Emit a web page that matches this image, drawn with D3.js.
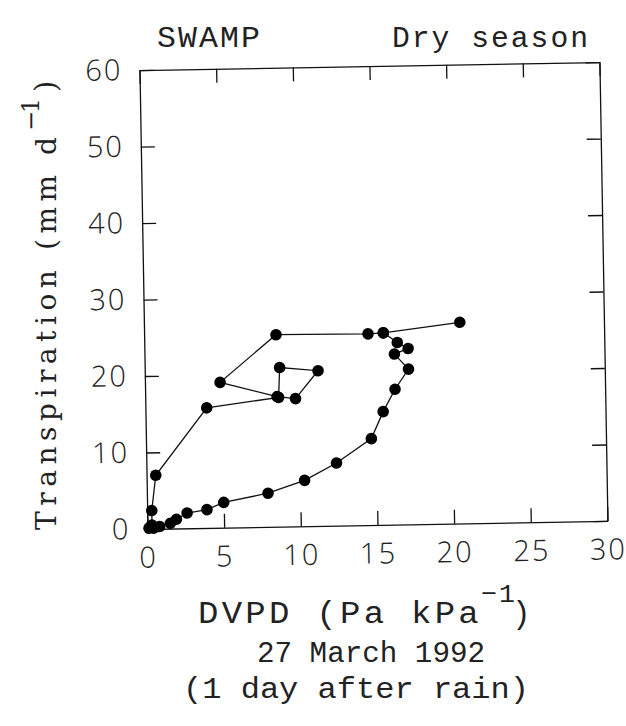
<!DOCTYPE html>
<html>
<head>
<meta charset="utf-8">
<style>
  body { margin: 0; background: #fff; }
  .mono { font-family: "Liberation Mono", "DejaVu Sans Mono", monospace; fill: #222; letter-spacing: 2px; }
  .serif { font-family: "DejaVu Serif", "Liberation Serif", serif; fill: #222; }
  .axis text { font-family: "Open Sans", "DejaVu Sans", sans-serif; font-weight: 300; font-size: 29px; letter-spacing: 2px; fill: #222; }
  .axis path, .axis line { stroke: #111; stroke-width: 1.3; }
</style>
</head>
<body>
<div id="chart"></div>

<script src="https://d3js.org/d3.v7.min.js"></script>
<script>

	var w = 626, h = 726;

	// ticks
	var xTicks = [0, 5, 10, 15, 20, 25, 30];
	var yTicks = [0, 10, 20, 30, 40, 50, 60];

	// morning branch (rising transpiration)
	var morningDvpd   = [0.1, 0.3, 0.3, 0.6, 4.0, 8.7, 8.8, 11.3, 9.8, 8.6, 4.9, 8.6, 14.6, 15.6, 20.6];
	var morningTransp = [0.1, 0.5, 2.4, 7.0, 15.7, 16.9, 20.8, 20.3, 16.7, 17.0, 19.0, 25.1, 25.0, 25.1, 26.3];

	// afternoon branch (falling back to the origin)
	var afternoonDvpd   = [15.6, 16.5, 17.2, 16.3, 17.2, 16.3, 15.5, 14.7, 12.4, 10.3, 7.9, 5.0, 3.9, 2.6, 1.9, 1.5, 0.8, 0.4, 0.2];
	var afternoonTransp = [25.1, 23.8, 23.0, 22.3, 20.3, 17.7, 14.8, 11.3, 8.2, 6.0, 4.4, 3.3, 2.4, 2.0, 1.2, 0.7, 0.3, 0.1, 0.3];

	var svg = d3.select("#chart")
				.append("svg")
				.attr("width", w)
				.attr("height", h);

	svg.append("rect").attr("width", w).attr("height", h).attr("fill", "#fff");

	// plot frame, slightly tilted like the scan
	var pw = 460, ph = 459;
	var plot = svg.append("g")
				  .attr("transform", "translate(147.5,529) rotate(-1.0)");

	var x = d3.scaleLinear().domain([0, 30]).range([0, pw]),
		y = d3.scaleLinear().domain([0, 60]).range([0, -ph]);

	// bottom axis with labels
	plot.append("g")
		.attr("class", "axis")
		.call(d3.axisBottom(x).tickValues(xTicks).tickSize(-14).tickSizeOuter(0).tickPadding(18));

	// left axis with labels
	plot.append("g")
		.attr("class", "axis")
		.call(d3.axisLeft(y).tickValues(yTicks).tickSize(-14).tickSizeOuter(0).tickPadding(17));

	// top and right, ticks only
	plot.append("g")
		.attr("class", "axis")
		.attr("transform", "translate(0," + (-ph) + ")")
		.call(d3.axisTop(x).tickValues(xTicks).tickSize(-14).tickSizeOuter(0).tickFormat(""));
	plot.append("g")
		.attr("class", "axis")
		.attr("transform", "translate(" + pw + ",0)")
		.call(d3.axisRight(y).tickValues(yTicks).tickSize(-14).tickSizeOuter(0).tickFormat(""));

	plot.selectAll(".axis").attr("font-family", null).attr("font-size", null);

	var line = d3.line()
				 .x(function(d) { return x(d[0]); })
				 .y(function(d) { return y(d[1]); });

	var morning = d3.zip(morningDvpd, morningTransp),
		afternoon = d3.zip(afternoonDvpd, afternoonTransp);

	[morning, afternoon].forEach(function(series) {
		plot.append("path")
			.datum(series)
			.attr("d", line)
			.attr("fill", "none")
			.attr("stroke", "#111")
			.attr("stroke-width", 1.3);

		plot.append("g")
			.selectAll("circle")
			.data(series)
			.enter()
			.append("circle")
			.attr("cx", function(d) { return x(d[0]); })
			.attr("cy", function(d) { return y(d[1]); })
			.attr("r", 5.8)
			.attr("fill", "#000");
	});

	// header
	svg.append("text").attr("class", "mono")
	   .attr("x", 157).attr("y", 47)
	   .attr("font-size", 30).attr("textLength", 105).attr("lengthAdjust", "spacingAndGlyphs")
	   .text("SWAMP");
	svg.append("text").attr("class", "mono")
	   .attr("x", 392).attr("y", 47)
	   .attr("font-size", 30).attr("textLength", 198).attr("lengthAdjust", "spacingAndGlyphs")
	   .text("Dry season");

	// x title
	svg.append("text").attr("class", "mono")
	   .attr("x", 198).attr("y", 623)
	   .attr("font-size", 31).attr("textLength", 284).attr("lengthAdjust", "spacingAndGlyphs")
	   .style("letter-spacing", "3px")
	   .text("DVPD (Pa kPa");
	svg.append("text").attr("class", "mono")
	   .attr("x", 481).attr("y", 602)
	   .attr("font-size", 26).attr("textLength", 36).attr("lengthAdjust", "spacingAndGlyphs")
	   .text("\u22121");
	svg.append("text").attr("class", "mono")
	   .attr("x", 512).attr("y", 623)
	   .attr("font-size", 31)
	   .text(")");

	svg.append("text").attr("class", "mono")
	   .attr("x", 257).attr("y", 662)
	   .attr("font-size", 30).attr("textLength", 228).attr("lengthAdjust", "spacingAndGlyphs")
	   .style("letter-spacing", "0px")
	   .text("27 March 1992");
	svg.append("text").attr("class", "mono")
	   .attr("x", 183).attr("y", 698)
	   .attr("font-size", 30).attr("textLength", 346).attr("lengthAdjust", "spacingAndGlyphs")
	   .style("letter-spacing", "0px")
	   .text("(1 day after rain)");

	// y title
	var yt = svg.append("g").attr("transform", "translate(56,530) rotate(-90)");
	yt.append("text").attr("class", "serif")
	  .attr("font-size", 28).attr("textLength", 393).attr("lengthAdjust", "spacing")
	  .text("Transpiration (mm d");
	yt.append("text").attr("class", "serif")
	  .attr("x", 399).attr("y", -17)
	  .attr("font-size", 24).attr("textLength", 33).attr("lengthAdjust", "spacing")
	  .text("\u22121");
	yt.append("text").attr("class", "serif")
	  .attr("x", 438)
	  .attr("font-size", 29)
	  .text(")");

</script>
</body>
</html>
